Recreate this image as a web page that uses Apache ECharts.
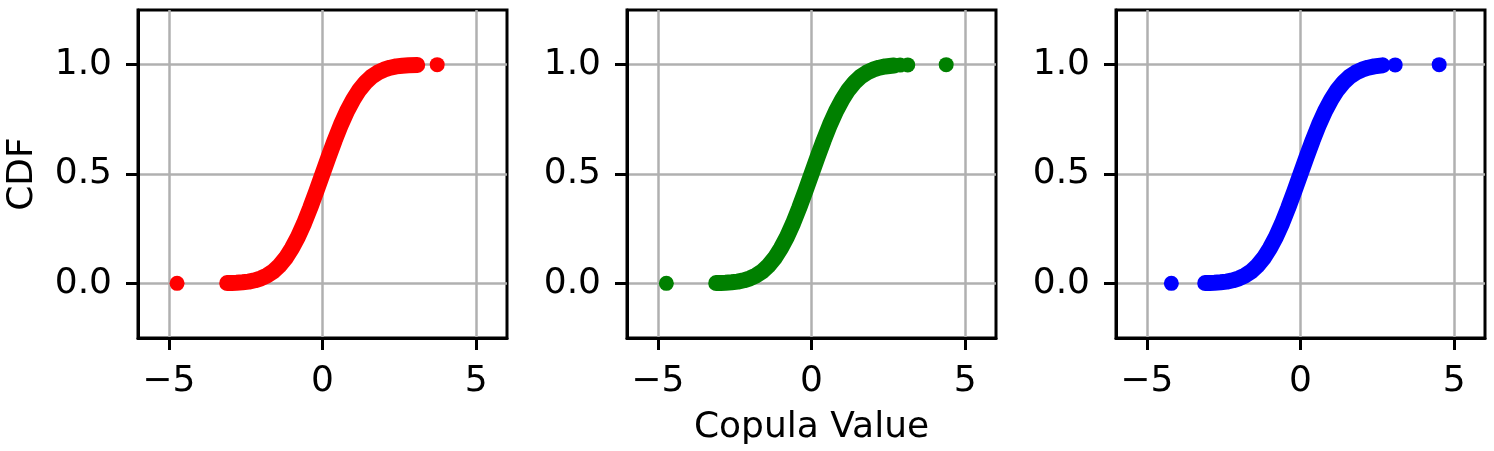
<!DOCTYPE html>
<html>
<head>
<meta charset="utf-8">
<script src="https://cdn.jsdelivr.net/npm/echarts@6/dist/echarts.min.js"></script>
<style>
  html, body { margin: 0; padding: 0; background: #fff; }
  #main { width: 1494px; height: 451px; }
</style>
</head>
<body>
<div id="main"></div>
<script>
// copula values (x) and CDF (y), one set per panel
const redX = [-3.10, -2.95, -2.80, -2.60, -2.40, -2.20, -2.00, -1.80, -1.60, -1.40, -1.20, -1.00, -0.80, -0.60, -0.40, -0.20, 0.00, 0.20, 0.40, 0.60, 0.80, 1.00, 1.20, 1.40, 1.60, 1.80, 2.00, 2.20, 2.40, 2.60, 2.80, 3.08];
const redCdf = [0.001, 0.002, 0.003, 0.005, 0.008, 0.014, 0.023, 0.036, 0.055, 0.081, 0.115, 0.159, 0.212, 0.274, 0.345, 0.421, 0.500, 0.579, 0.655, 0.726, 0.788, 0.841, 0.885, 0.919, 0.945, 0.964, 0.977, 0.986, 0.992, 0.995, 0.997, 0.999];
const redOutX = [-4.73, 3.73];
const redOutCdf = [0.0, 1.0];

const greenX = [-3.10, -2.95, -2.80, -2.60, -2.40, -2.20, -2.00, -1.80, -1.60, -1.40, -1.20, -1.00, -0.80, -0.60, -0.40, -0.20, 0.00, 0.20, 0.40, 0.60, 0.80, 1.00, 1.20, 1.40, 1.60, 1.80, 2.00, 2.20, 2.40, 2.68];
const greenCdf = [0.001, 0.002, 0.003, 0.005, 0.008, 0.014, 0.023, 0.036, 0.055, 0.081, 0.115, 0.159, 0.212, 0.274, 0.345, 0.421, 0.500, 0.579, 0.655, 0.726, 0.788, 0.841, 0.885, 0.919, 0.945, 0.964, 0.977, 0.986, 0.992, 0.996];
const greenOutX = [-4.72, 2.88, 3.13, 4.38];
const greenOutCdf = [0.0, 0.998, 0.999, 1.0];

const blueX = [-3.10, -2.95, -2.80, -2.60, -2.40, -2.20, -2.00, -1.80, -1.60, -1.40, -1.20, -1.00, -0.80, -0.60, -0.40, -0.20, 0.00, 0.20, 0.40, 0.60, 0.80, 1.00, 1.20, 1.40, 1.60, 1.80, 2.00, 2.20, 2.40, 2.67];
const blueCdf = [0.001, 0.002, 0.003, 0.005, 0.008, 0.014, 0.023, 0.036, 0.055, 0.081, 0.115, 0.159, 0.212, 0.274, 0.345, 0.421, 0.500, 0.579, 0.655, 0.726, 0.788, 0.841, 0.885, 0.919, 0.945, 0.964, 0.977, 0.986, 0.992, 0.997];
const blueOutX = [-4.20, 3.08, 4.51];
const blueOutCdf = [0.0, 0.999, 1.0];

const xTicks = [-5, 0, 5];
const yTicks = [0, 0.5, 1];

const FONT = "DejaVu Sans";
const panels = [
  { left: 138, x: redX, y: redCdf, ox: redOutX, oy: redOutCdf, color: "#ff0000" },
  { left: 627, x: greenX, y: greenCdf, ox: greenOutX, oy: greenOutCdf, color: "#008000" },
  { left: 1116, x: blueX, y: blueCdf, ox: blueOutX, oy: blueOutCdf, color: "#0000ff" }
];

function pairs(xs, ys) {
  return xs.map((v, i) => [v, ys[i]]);
}

let myChart = echarts.init(document.getElementById("main"));

let grids = [], xAxes = [], yAxes = [], series = [];
panels.forEach((p, i) => {
  grids.push({
    left: p.left, top: 10, width: 369, height: 328,
    show: true, borderColor: "#000", borderWidth: 3, backgroundColor: "#fff"
  });
  xAxes.push({
    type: "value", gridIndex: i, min: -6, max: 6,
    name: i === 1 ? "Copula Value" : "",
    nameLocation: "middle", nameGap: 72,
    nameTextStyle: { fontFamily: FONT, fontSize: 36, color: "#000" },
    axisLine: { show: true, onZero: false, lineStyle: { color: "#000", width: 3 } },
    axisTick: { show: true, length: 12, customValues: xTicks, lineStyle: { color: "#000", width: 3 } },
    axisLabel: {
      customValues: xTicks, margin: 26, color: "#000", fontFamily: FONT, fontSize: 36,
      formatter: v => (v < 0 ? "\u2212" + Math.abs(v) : String(v))
    },
    splitLine: { show: true, customValues: xTicks, lineStyle: { color: "#b0b0b0", width: 2.5 } }
  });
  yAxes.push({
    type: "value", gridIndex: i, min: -0.25, max: 1.25,
    name: i === 0 ? "CDF" : "",
    nameLocation: "middle", nameGap: 97, nameRotate: 90,
    nameTextStyle: { fontFamily: FONT, fontSize: 36, color: "#000" },
    axisLine: { show: true, onZero: false, lineStyle: { color: "#000", width: 3 } },
    axisTick: { show: true, length: 12, customValues: yTicks, lineStyle: { color: "#000", width: 3 } },
    axisLabel: {
      customValues: yTicks, margin: 26, color: "#000", fontFamily: FONT, fontSize: 36,
      formatter: v => v.toFixed(1)
    },
    splitLine: { show: true, customValues: yTicks, lineStyle: { color: "#b0b0b0", width: 2.5 } }
  });
  // dense part of the points: drawn as a thick band the width of a marker
  series.push({
    type: "line", xAxisIndex: i, yAxisIndex: i,
    data: pairs(p.x, p.y), showSymbol: false, silent: true,
    lineStyle: { color: p.color, width: 16, cap: "round", join: "round" }
  });
  series.push({
    type: "scatter", xAxisIndex: i, yAxisIndex: i,
    data: pairs(p.ox, p.oy), symbolSize: 15, silent: true,
    itemStyle: { color: p.color, opacity: 1 }
  });
});

option = {
  animation: false,
  backgroundColor: "#fff",
  grid: grids,
  xAxis: xAxes,
  yAxis: yAxes,
  series: series
};
myChart.setOption(option);
</script>
</body>
</html>
